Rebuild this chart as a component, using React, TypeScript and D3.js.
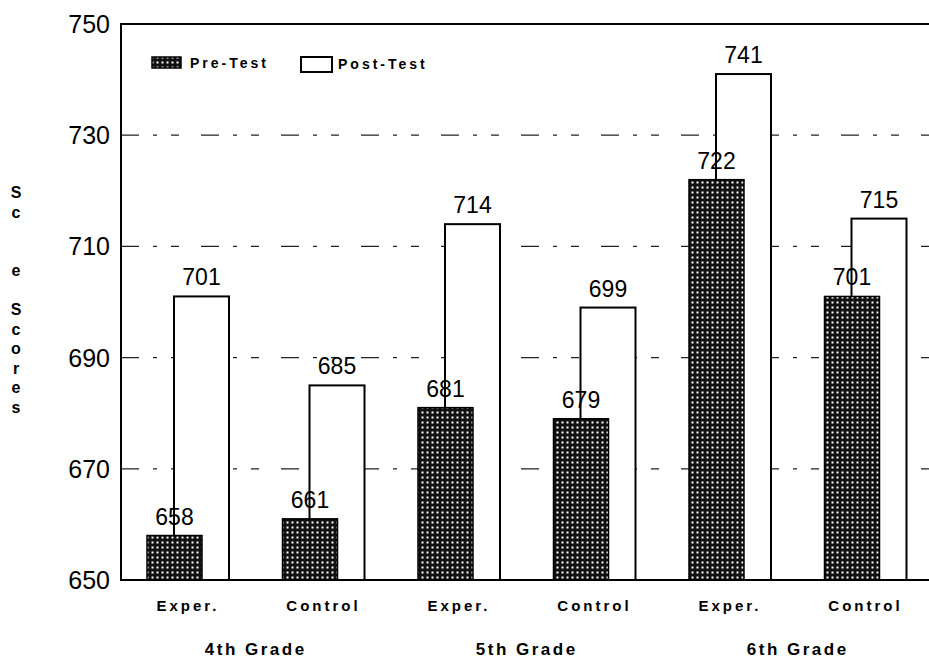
import React from "react";
import * as d3 from "d3";

const categories = ["Exper.", "Control", "Exper.", "Control", "Exper.", "Control"];
const grades = ["4th Grade", "5th Grade", "6th Grade"];
const preTest = [658, 661, 681, 679, 722, 701];
const postTest = [701, 685, 714, 699, 741, 715];
const yTicks = [650, 670, 690, 710, 730, 750];
const gridTicks = [670, 690, 710, 730];
const seriesNames = ["Pre-Test", "Post-Test"];
const yTitle = ["S", "c", "a", "l", "e", " ", "S", "c", "o", "r", "e", "s"];
const yTitleShown = [true, true, false, false, true, false, true, true, true, true, true, true];

const W = 929;
const H = 663;
const left = 121;
const right = 929;
const top = 24;
const bottom = 580;
const font = "'Liberation Sans', Arial, Helvetica, sans-serif";

export default function App() {
  const y = d3.scaleLinear().domain([650, 750]).range([bottom, top]);
  const x = d3
    .scalePoint<number>()
    .domain(d3.range(categories.length))
    .range([188, 865.5]);
  const barW = 55;
  const preOff = -41;
  const postOff = -14;

  return (
    <svg
      width={W}
      height={H}
      style={{ position: "fixed", left: 0, top: 0, background: "#fff" }}
      fontFamily={font}
    >
      <defs>
        <pattern id="dots" width={5} height={5} patternUnits="userSpaceOnUse">
          <rect width={5} height={5} fill="#111" />
          <rect x={1.5} y={1.5} width={2} height={2} fill="#fff" />
        </pattern>
      </defs>
      <rect width={W} height={H} fill="#fff" />

      {/* gridlines */}
      {gridTicks.map((t) => (
        <line
          key={"g" + t}
          x1={left}
          x2={right}
          y1={y(t)}
          y2={y(t)}
          stroke="#222"
          strokeWidth={1.3}
          strokeDasharray="18 14 4 14 8 22"
        />
      ))}

      {/* frame */}
      <path
        d={`M${right},${top}H${left}V${bottom}H${right}`}
        fill="none"
        stroke="#000"
        strokeWidth={2}
      />

      {/* bars */}
      {categories.map((c, i) => {
        const cx = x(i)!;
        return (
          <g key={"b" + i}>
            <rect
              x={cx + postOff}
              y={y(postTest[i])}
              width={barW}
              height={bottom - y(postTest[i])}
              fill="#fff"
              stroke="#000"
              strokeWidth={2}
            />
            <rect
              x={cx + preOff}
              y={y(preTest[i])}
              width={barW}
              height={bottom - y(preTest[i])}
              fill="url(#dots)"
              stroke="#000"
              strokeWidth={1.5}
            />
            <text
              x={cx + postOff + barW / 2}
              y={y(postTest[i]) - 11}
              textAnchor="middle"
              fontSize={23}
              fill="#000"
            >
              {postTest[i]}
            </text>
            <text
              x={cx + preOff + barW / 2}
              y={y(preTest[i]) - 11}
              textAnchor="middle"
              fontSize={23}
              fill="#000"
            >
              {preTest[i]}
            </text>
            <text
              x={cx}
              y={611}
              textAnchor="middle"
              fontSize={15}
              fontWeight="bold"
              letterSpacing={3}
              fill="#000"
            >
              {c}
            </text>
          </g>
        );
      })}

      {/* grade labels */}
      {grades.map((g, k) => {
        const cx = (x(2 * k)! + x(2 * k + 1)!) / 2;
        return (
          <text
            key={"gr" + k}
            x={cx}
            y={655}
            textAnchor="middle"
            fontSize={17}
            fontWeight="bold"
            letterSpacing={2.5}
            fill="#000"
          >
            {g}
          </text>
        );
      })}

      {/* y ticks */}
      {yTicks.map((t) => (
        <text
          key={"t" + t}
          x={110}
          y={y(t) + 9}
          textAnchor="end"
          fontSize={25}
          fill="#000"
        >
          {t}
        </text>
      ))}

      {/* y title */}
      {yTitle.map((ch, i) =>
        yTitleShown[i] ? (
          <text
            key={"yt" + i}
            x={16}
            y={192 + i * 19.5 + 6}
            textAnchor="middle"
            fontSize={16}
            fontWeight="bold"
            fill="#000"
          >
            {ch}
          </text>
        ) : null
      )}

      {/* legend */}
      <rect x={152} y={57} width={29} height={11} fill="url(#dots)" stroke="#000" strokeWidth={1.5} />
      <text x={190} y={68} fontSize={14} fontWeight="bold" letterSpacing={3} fill="#000">
        {seriesNames[0]}
      </text>
      <rect x={301} y={57} width={31} height={15} fill="#fff" stroke="#000" strokeWidth={2} />
      <text x={338} y={69} fontSize={14} fontWeight="bold" letterSpacing={3} fill="#000">
        {seriesNames[1]}
      </text>
    </svg>
  );
}
